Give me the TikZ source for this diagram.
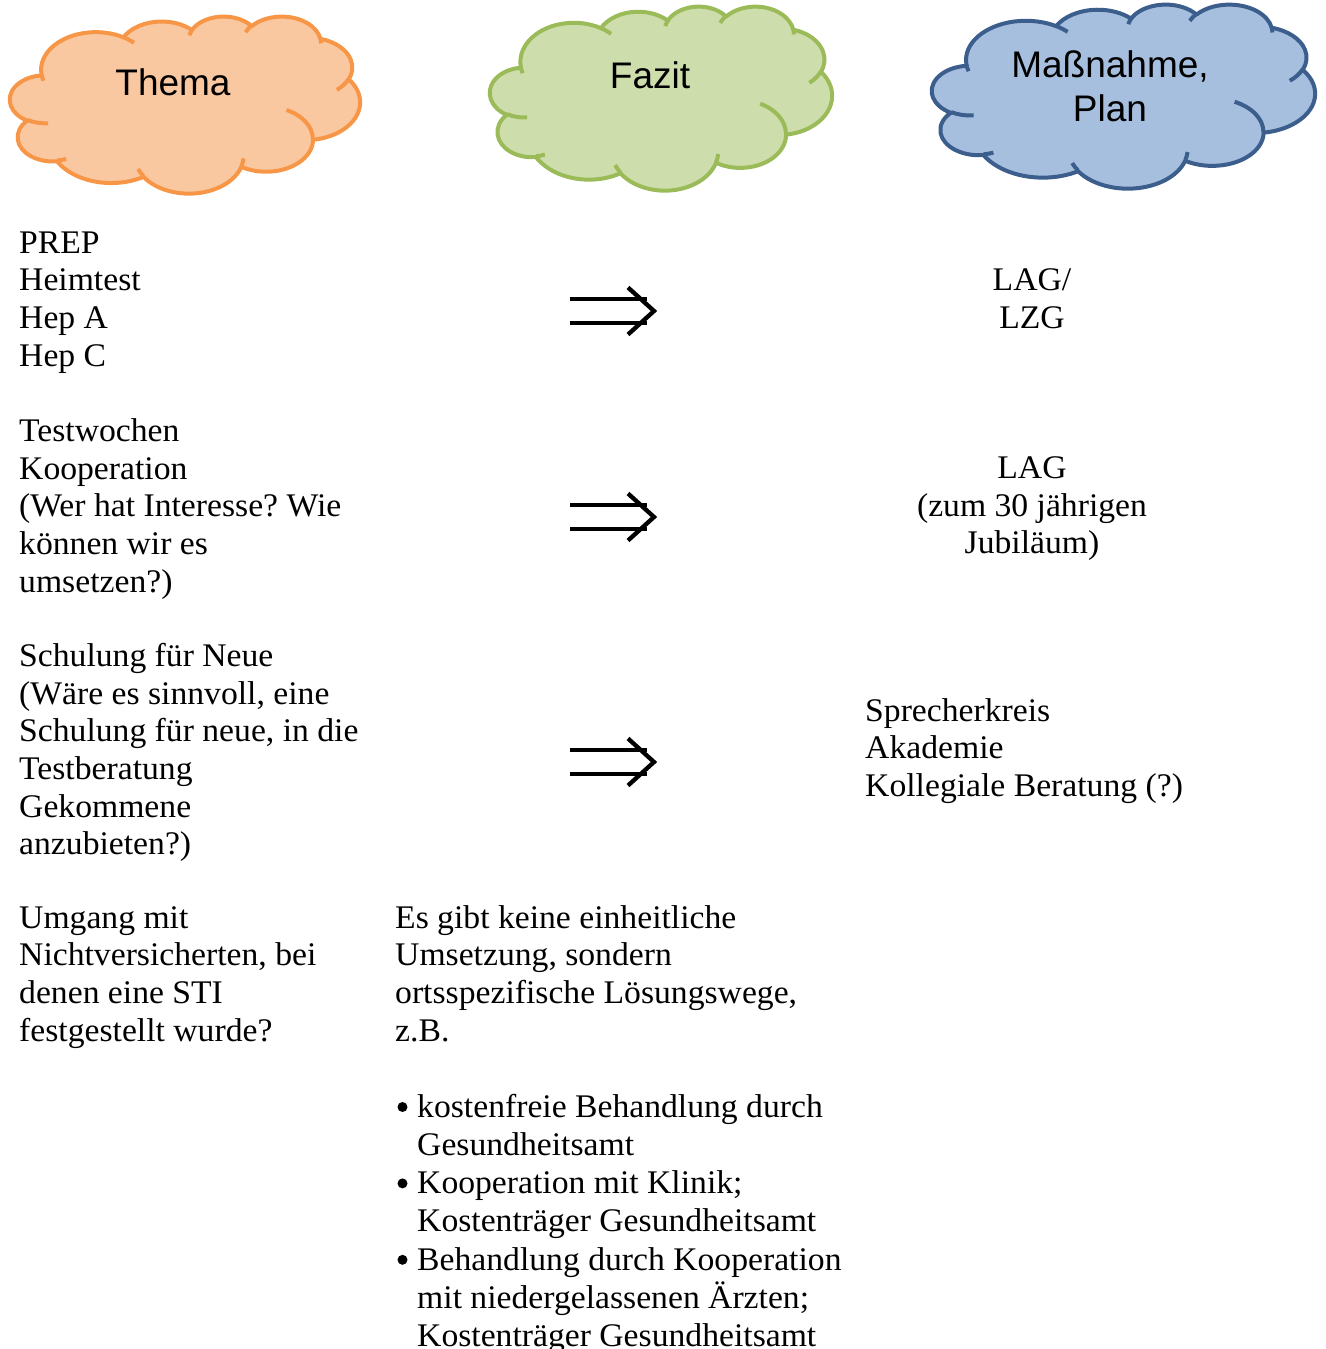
\documentclass[tikz,border=0pt]{standalone}
\usepackage{fontspec}
\newfontfamily\bodyface[FakeStretch=1.02]{Liberation Serif}
\newfontfamily\headface{Liberation Sans}
\newcommand\bodyfnt{\bodyface\fontsize{33}{37.6}\selectfont\frenchspacing}
\newcommand\listfnt{\bodyface\fontsize{33}{38.2}\selectfont\frenchspacing}
\newcommand\headfnt{\headface\fontsize{37}{44}\selectfont}

\definecolor{thfill}{HTML}{FAC8A0}
\definecolor{thline}{HTML}{F79646}
\definecolor{fzfill}{HTML}{CDDDAC}
\definecolor{fzline}{HTML}{9BBB59}
\definecolor{mnfill}{HTML}{A7BFDE}
\definecolor{mnline}{HTML}{3B5E8C}

% ---- Office-style cloud geometry (frame 432 x 432) ----
\newcommand\cloudouter{}
\newcommand\cloudinner{}
\newcommand\cloudarcangles[4]{%
  \pgfmathsetmacro\cA{atan2((#1)*sin(#3),(#2)*cos(#3))}%
  \pgfmathsetmacro\cB{atan2((#1)*sin(#3+#4),(#2)*cos(#3+#4))}%
  \ifdim\cB pt<\cA pt\relax
    \pgfmathsetmacro\cB{\cB+360}%
  \fi}
\newcommand\addouterarc[4]{\cloudarcangles{#1}{#2}{#3}{#4}%
  \xdef\cloudouter{\cloudouter arc[start angle=\cA, end angle=\cB, x radius=#1, y radius=#2]}}
\newcommand\addinnerarc[6]{\cloudarcangles{#3}{#4}{#5}{#6}%
  \xdef\cloudinner{\cloudinner (#1,#2) arc[start angle=\cA, end angle=\cB, x radius=#3, y radius=#4]}}

\addouterarc{67.53}{91.90}{-190.4875}{123.7805}
\addouterarc{53.33}{72.67}{-144.1024}{89.9452}
\addouterarc{43.65}{59.45}{-145.8079}{99.7230}
\addouterarc{48.57}{65.95}{-130.9861}{117.2417}
\addouterarc{53.33}{72.73}{-78.7089}{109.0269}
\addouterarc{67.75}{92.20}{-46.2673}{130.2690}
\addouterarc{57.85}{78.67}{0.6250}{114.0333}
\addouterarc{67.52}{92.15}{22.4516}{115.1726}
\addouterarc{77.20}{105.43}{66.2426}{75.7110}
\addouterarc{43.60}{59.18}{-274.9421}{146.7356}
\addouterarc{43.45}{59.45}{-246.8285}{152.5189}

\addinnerarc{46.93}{261.77}{43.45}{59.45}{86.7420}{26.4295}
\addinnerarc{69.28}{348.99}{43.60}{59.18}{73.6105}{11.4475}
\addinnerarc{164.78}{390.90}{67.52}{92.15}{137.6242}{14.0811}
\addinnerarc{288.27}{347.51}{67.52}{92.15}{6.4533}{15.9984}
\addinnerarc{341.29}{229.54}{57.85}{78.67}{-70.2924}{70.9174}
\addinnerarc{417.98}{153.54}{53.33}{72.73}{30.3180}{27.7515}
\addinnerarc{383.24}{54.26}{48.57}{65.95}{-13.7443}{14.8589}
\addinnerarc{290.78}{39.52}{48.57}{65.95}{-149.1815}{18.1954}
\addinnerarc{221.41}{47.20}{43.65}{59.45}{-163.4943}{17.6864}
\addinnerarc{140.00}{51.92}{67.53}{91.90}{-66.7070}{12.3194}
\addinnerarc{41.27}{157.89}{67.53}{91.90}{157.6544}{11.8582}

\newcommand\drawcloud[6]{%
  \pgfmathsetmacro\cwx{#3/432}\pgfmathsetmacro\chy{#4/432}%
  \begin{scope}[shift={(#1,#2)}, x=\cwx pt, y=-\chy pt, line width=4pt, line join=round]
    \path[fill=#5, draw=#6] (39.00,143.70) \cloudouter -- cycle;
    \path[draw=#6] \cloudinner;
  \end{scope}}

\tikzset{
  body/.style={font=\bodyfnt, inner sep=0pt, align=left, anchor=north west},
  bodyc/.style={font=\bodyfnt, inner sep=0pt, align=center, anchor=north},
  head/.style={font=\headfnt, inner sep=0pt},
  bulletdot/.style={fill=black},
  dblarrow/.pic={
    \draw[line width=4pt] (0,-12) -- (77,-12) (0,12) -- (77,12);
    \draw[line width=4.3pt, line join=miter, miter limit=10] (58,-23.5) -- (84,0) -- (58,23.5);
  }
}

\begin{document}
\begin{tikzpicture}[x=1pt, y=-1pt]
\useasboundingbox (0,0) rectangle (1325,1349);

% clouds
\drawcloud{10}{16}{350}{177}{thfill}{thline}
\drawcloud{490}{6}{342}{184}{fzfill}{fzline}
\drawcloud{932}{4}{383}{184}{mnfill}{mnline}

\node[head, anchor=base] (thema) at (173,95) {Thema};
\node[head, anchor=base] (fazit) at (650,88) {Fazit};
\node[head, align=center, anchor=north] (massnahme) at (1110,46.2) {\strut Maßnahme,\\Plan};

% left column
\node[body] (t1) at (19,226.7) {\strut PREP\\Heimtest\\Hep A\\Hep C};
\node[body] (t2) at (19,415.2) {\strut Testwochen\\Kooperation\\(Wer hat Interesse? Wie\\können wir es\\umsetzen?)};
\node[body] (t3) at (19,640.2) {\strut Schulung für Neue\\(Wäre es sinnvoll, eine\\Schulung für neue, in die\\Testberatung\\Gekommene\\anzubieten?)};
\node[body] (t4) at (19,901.7) {\strut Umgang mit\\Nichtversicherten, bei\\denen eine STI\\festgestellt wurde?};

% middle column
\node[body] (f4) at (395,901.7) {\strut Es gibt keine einheitliche\\Umsetzung, sondern\\ortsspezifische Lösungswege,\\z.B.};
\node[body, font=\listfnt] (f4list) at (417,1090.3) {\strut kostenfreie Behandlung durch\\Gesundheitsamt\\Kooperation mit Klinik;\\Kostenträger Gesundheitsamt\\Behandlung durch Kooperation\\mit niedergelassenen Ärzten;\\Kostenträger Gesundheitsamt};
\fill[bulletdot] (402.5,1107) circle[radius=5pt];
\fill[bulletdot] (402.5,1183.4) circle[radius=5pt];
\fill[bulletdot] (402.5,1259.8) circle[radius=5pt];

% arrows
\pic at (570,311) {dblarrow};
\pic at (570,517) {dblarrow};
\pic at (570,762) {dblarrow};

% right column
\node[bodyc] (m1) at (1032,264.2) {\strut LAG/\\LZG};
\node[bodyc] (m2) at (1032,452.2) {\strut LAG\\(zum 30 jährigen\\Jubiläum)};
\node[body] (m3) at (865,694.7) {\strut Sprecherkreis\\Akademie\\Kollegiale Beratung (?)};
\end{tikzpicture}
\end{document}
